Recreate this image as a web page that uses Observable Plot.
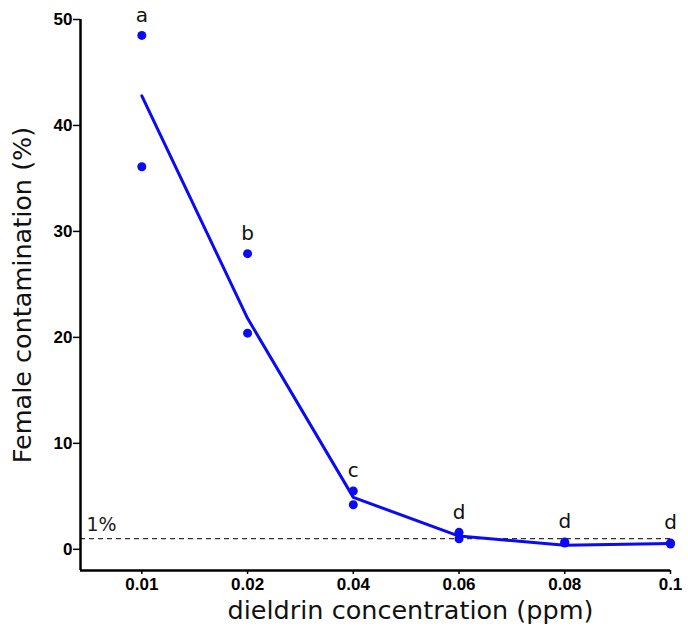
<!DOCTYPE html>
<html>
<head>
<meta charset="utf-8">
<script src="https://cdn.jsdelivr.net/npm/d3@7"></script>
<script src="https://cdn.jsdelivr.net/npm/@observablehq/plot@0.6"></script>
<style>
  html, body { margin: 0; padding: 0; background: white; }
</style>
</head>
<body>
<div id="chart"></div>
<script>
const concentrations = ["0.01", "0.02", "0.04", "0.06", "0.08", "0.1"];
const rep1 = [48.5, 27.9, 5.5, 1.6, 0.7, 0.6];
const rep2 = [36.1, 20.4, 4.2, 1.0, 0.6, 0.5];
const fitted = [42.8, 21.8, 4.9, 1.25, 0.38, 0.55];
const letters = ["a", "b", "c", "d", "d", "d"];
const yTicks = [0, 10, 20, 30, 40, 50];
const threshold = 1;
const thresholdLabel = "1%";

const idx = concentrations.map((_, i) => i);
const points = idx.flatMap(i => [{i, v: rep1[i]}, {i, v: rep2[i]}]);
const xMin = -0.58, xMax = 5, yMin = -2, yMax = 50;
const titleFont = "DejaVu Sans, Verdana, sans-serif";
const tickFont = "Liberation Sans, Arial, sans-serif";

const chart = Plot.plot({
  width: 688,
  height: 642,
  marginLeft: 80,
  marginRight: 18,
  marginTop: 19,
  marginBottom: 72,
  x: {type: "linear", domain: [xMin, xMax]},
  y: {type: "linear", domain: [yMin, yMax]},
  style: {fontFamily: tickFont, background: "white", color: "black"},
  marks: [
    Plot.ruleY([threshold], {x1: xMin, x2: xMax, stroke: "#333", strokeDasharray: "5,4", strokeWidth: 1.3}),
    Plot.text([thresholdLabel], {x: xMin, y: threshold, text: d => d, dx: 6, dy: -14, textAnchor: "start", fontSize: 19, fontFamily: titleFont, fill: "#222"}),
    Plot.line(idx, {x: d => d, y: i => fitted[i], stroke: "#0a0af5", strokeWidth: 3}),
    Plot.dot(points, {x: "i", y: "v", r: 4.5, fill: "#0a0af5", stroke: "none"}),
    Plot.text(idx, {x: d => d, y: i => Math.max(rep1[i], rep2[i]), text: i => letters[i], dy: -20, fontSize: 20, fontFamily: titleFont, fill: "#111"}),
    Plot.axisY({ticks: yTicks, tickSize: 7, tickFormat: () => "", label: null, strokeWidth: 1.5}),
    Plot.axisX({ticks: idx, tickSize: 4, tickFormat: () => "", label: null, strokeWidth: 1.5}),
    Plot.text(yTicks, {y: d => d, frameAnchor: "left", textAnchor: "end", dx: -8, text: d => String(d), fontSize: 17, fontWeight: "bold", fontFamily: tickFont, fill: "black"}),
    Plot.text(idx, {x: d => d, frameAnchor: "bottom", lineAnchor: "top", dy: 7, text: i => concentrations[i], fontSize: 17, fontWeight: "bold", fontFamily: tickFont, fill: "black"}),
    Plot.ruleX([xMin], {y1: yMin, y2: yMax, stroke: "black", strokeWidth: 2.5}),
    Plot.ruleY([yMin], {x1: xMin, x2: xMax, stroke: "black", strokeWidth: 2.5}),
    Plot.text(["dieldrin concentration (ppm)"], {frameAnchor: "bottom", text: d => d, dx: 35, dy: 48, fontSize: 25.5, fontFamily: titleFont, fill: "#111"}),
    Plot.text(["Female contamination (%)"], {frameAnchor: "left", textAnchor: "middle", text: d => d, rotate: -90, dx: -58, fontSize: 25.5, fontFamily: titleFont, fill: "#111"})
  ]
});
document.getElementById("chart").appendChild(chart);
</script>
</body>
</html>
